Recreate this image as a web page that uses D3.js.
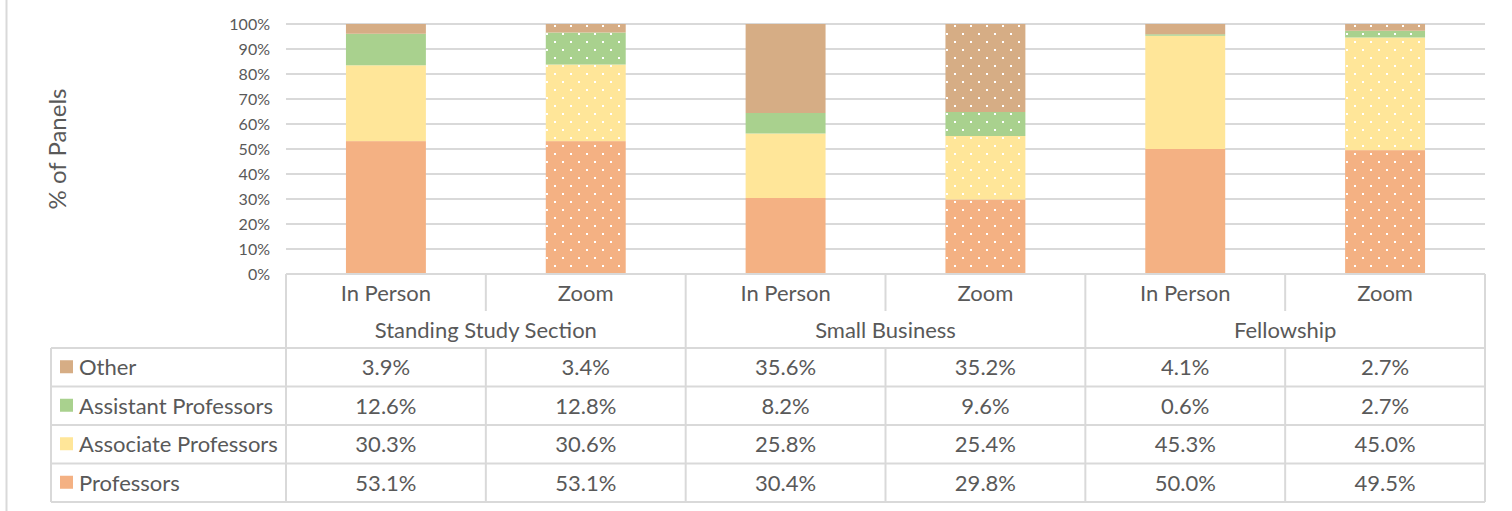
<!DOCTYPE html>
<html>
<head>
<meta charset="utf-8">
<script src="https://d3js.org/d3.v7.min.js"></script>
<style>
  body { margin: 0; background: #fff; }
  svg { display: block; font-family: Lato, "Noto Sans", sans-serif; }
  text { fill: #595959; }
</style>
</head>
<body>
<svg id="chart" width="1512" height="511"></svg>
<script>
  // groups and the two modes inside each group
  const groups = ["Standing Study Section", "Small Business", "Fellowship"];
  const modes = ["In Person", "Zoom"];

  // series, bottom of the stack first
  const series = ["Professors", "Associate Professors", "Assistant Professors", "Other"];
  const colors = ["#f4b183", "#ffe699", "#a9d18e", "#d6ad85"];

  // values per column (SSS in person, SSS zoom, SB in person, SB zoom, Fel in person, Fel zoom)
  const professors = [53.1, 53.1, 30.4, 29.8, 50.0, 49.5];
  const associate  = [30.3, 30.6, 25.8, 25.4, 45.3, 45.0];
  const assistant  = [12.6, 12.8, 8.2, 9.6, 0.6, 2.7];
  const other      = [3.9, 3.4, 35.6, 35.2, 4.1, 2.7];

  const yTicks = [0, 0.1, 0.2, 0.3, 0.4, 0.5, 0.6, 0.7, 0.8, 0.9, 1];

  // build column rows for d3.stack
  const columns = [];
  groups.forEach((g, gi) => modes.forEach((m, mi) => columns.push({ key: g + "|" + m, group: g, mode: m })));
  columns.forEach((c, i) => {
    c["Professors"] = professors[i];
    c["Associate Professors"] = associate[i];
    c["Assistant Professors"] = assistant[i];
    c["Other"] = other[i];
  });

  const svg = d3.select("#chart");
  const grid = "#d9d9d9";

  const plotLeft = 286, plotRight = 1485, plotTop = 24, plotBase = 274;
  const x = d3.scaleBand().domain(columns.map(d => d.key)).range([plotLeft, plotRight]).paddingInner(0.6).paddingOuter(0.3);
  const xCell = d3.scaleBand().domain(columns.map(d => d.key)).range([plotLeft, plotRight]);
  const y = d3.scaleLinear().domain([0, 1]).range([plotBase, plotTop]);
  const color = d3.scaleOrdinal().domain(series).range(colors);

  // dotted patterns for the Zoom bars
  const defs = svg.append("defs");
  series.forEach((s, i) => {
    const p = defs.append("pattern")
      .attr("id", "dots" + i)
      .attr("patternUnits", "userSpaceOnUse")
      .attr("x", 2).attr("y", 1)
      .attr("width", 16).attr("height", 16);
    p.append("rect").attr("width", 16).attr("height", 16).attr("fill", colors[i]);
    p.append("rect").attr("x", 0).attr("y", 0).attr("width", 2).attr("height", 2).attr("fill", "#fff");
    p.append("rect").attr("x", 8).attr("y", 8).attr("width", 2).attr("height", 2).attr("fill", "#fff");
  });

  // outer frame line on the left
  svg.append("line").attr("x1", 6.5).attr("x2", 6.5).attr("y1", 0).attr("y2", 511)
    .attr("stroke", grid).attr("stroke-width", 2);

  // gridlines
  svg.append("g").selectAll("line")
    .data(yTicks.filter(t => t > 0))
    .join("line")
    .attr("x1", plotLeft).attr("x2", plotRight)
    .attr("y1", d => y(d)).attr("y2", d => y(d))
    .attr("stroke", grid).attr("stroke-width", 2);

  // y axis tick labels
  const yAxis = d3.axisLeft(y).tickValues(yTicks).tickFormat(d3.format(".0%")).tickSize(0).tickPadding(0);
  svg.append("g")
    .attr("transform", `translate(${plotLeft - 16},0)`)
    .call(yAxis)
    .call(g => g.select(".domain").remove())
    .call(g => g.selectAll("text").attr("fill", "#595959").style("font-size", "16px").style("font-family", "Lato"));

  // axis title
  svg.append("text")
    .attr("transform", "translate(66,149) rotate(-90)")
    .attr("text-anchor", "middle")
    .style("font-size", "24px")
    .text("% of Panels");

  // stacked bars (100% stacked)
  const stacked = d3.stack().keys(series).offset(d3.stackOffsetExpand)(columns);
  svg.append("g").selectAll("g")
    .data(stacked)
    .join("g")
    .selectAll("rect")
    .data((s, i) => s.map(d => ({ d, i })))
    .join("rect")
    .attr("x", o => x(o.d.data.key))
    .attr("width", x.bandwidth())
    .attr("y", o => y(o.d[1]))
    .attr("height", o => y(o.d[0]) - y(o.d[1]))
    .attr("fill", o => o.d.data.mode === "Zoom" ? `url(#dots${o.i})` : colors[o.i]);

  // data table below
  const r1 = 274, r2 = 311, r3 = 348, tableBottom = 502, legendLeft = 51;
  const rows = series.slice().reverse();
  const rowY = d3.scaleBand().domain(rows).range([r3, tableBottom]);
  const lines = svg.append("g").attr("stroke", grid).attr("stroke-width", 2);

  // header: mode row and group row
  lines.append("line").attr("x1", plotLeft).attr("x2", plotRight).attr("y1", r1).attr("y2", r1);
  xCell.domain().forEach((k, i) => {
    const x0 = xCell(k);
    const isGroupEdge = i % 2 === 0;
    lines.append("line").attr("x1", x0).attr("x2", x0).attr("y1", r1).attr("y2", isGroupEdge ? tableBottom : r2);
  });
  lines.append("line").attr("x1", plotRight).attr("x2", plotRight).attr("y1", r1).attr("y2", tableBottom);
  // inner verticals for data rows
  xCell.domain().forEach((k, i) => {
    if (i % 2 === 1) {
      const x0 = xCell(k);
      lines.append("line").attr("x1", x0).attr("x2", x0).attr("y1", r3).attr("y2", tableBottom);
    }
  });

  svg.append("g").selectAll("text")
    .data(columns)
    .join("text")
    .attr("x", d => xCell(d.key) + xCell.bandwidth() / 2)
    .attr("y", (r1 + r2) / 2 + 8)
    .attr("text-anchor", "middle")
    .style("font-size", "22px")
    .text(d => d.mode);

  svg.append("g").selectAll("text")
    .data(groups)
    .join("text")
    .attr("x", (g, gi) => xCell(columns[gi * 2].key) + xCell.bandwidth())
    .attr("y", (r2 + r3) / 2 + 8)
    .attr("text-anchor", "middle")
    .style("font-size", "22px")
    .text(g => g);

  // data rows
  rows.forEach(s => {
    const yy = rowY(s);
    lines.append("line").attr("x1", legendLeft).attr("x2", plotRight).attr("y1", yy).attr("y2", yy);
  });
  lines.append("line").attr("x1", legendLeft).attr("x2", plotRight).attr("y1", tableBottom).attr("y2", tableBottom);
  lines.append("line").attr("x1", legendLeft).attr("x2", legendLeft).attr("y1", r3).attr("y2", tableBottom);

  const rowG = svg.append("g").selectAll("g")
    .data(rows)
    .join("g")
    .attr("transform", s => `translate(0,${rowY(s) + rowY.bandwidth() / 2})`);

  rowG.append("rect")
    .attr("x", 60).attr("y", -7).attr("width", 13).attr("height", 13)
    .attr("fill", s => color(s));

  rowG.append("text")
    .attr("x", 79).attr("y", 8)
    .style("font-size", "22px")
    .text(s => s);

  rowG.selectAll("text.v")
    .data(s => columns.map(c => ({ c, v: c[s] })))
    .join("text")
    .attr("class", "v")
    .attr("x", o => xCell(o.c.key) + xCell.bandwidth() / 2)
    .attr("y", 8)
    .attr("text-anchor", "middle")
    .style("font-size", "22px")
    .text(o => o.v.toFixed(1) + "%");
</script>
</body>
</html>
